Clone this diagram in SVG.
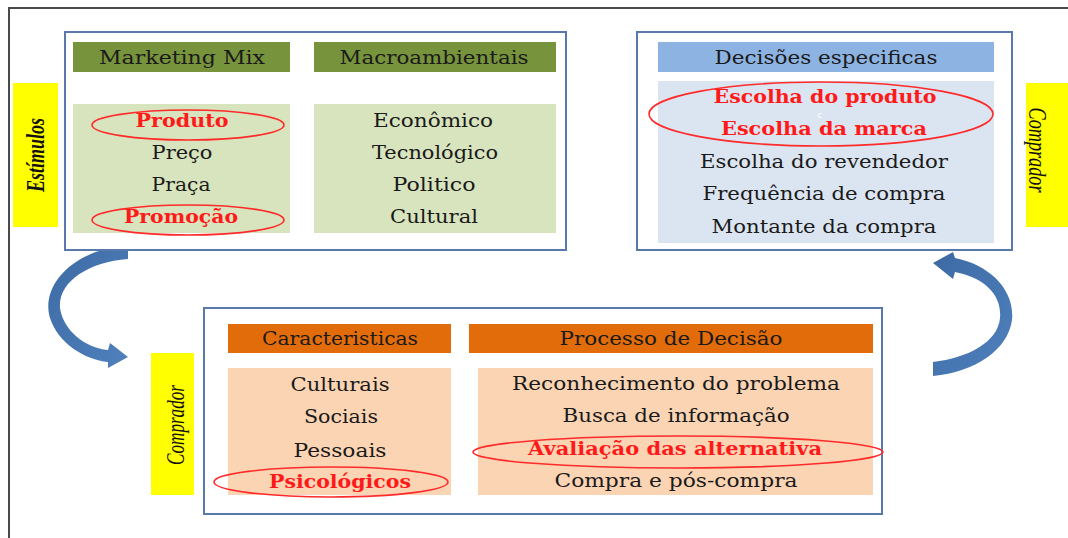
<svg xmlns="http://www.w3.org/2000/svg" width="1068" height="538" viewBox="0 0 1068 538">
<defs>
<style>
.frame{fill:none;stroke:#4a4a4a;stroke-width:2}
.box{fill:#ffffff;stroke:#5a79ab;stroke-width:2}
.t{font-family:"DejaVu Serif","Liberation Serif",serif;font-size:18px;fill:#1a1a1a;text-anchor:middle}
.r{font-family:"DejaVu Serif","Liberation Serif",serif;font-size:18px;font-weight:bold;fill:#ff1a1a;text-anchor:middle}
.ell{fill:none;stroke:#ff2a2a;stroke-width:1.6}
.yel{fill:#ffff00}
.lab{font-family:"Liberation Serif",serif;font-style:italic;font-size:25px;fill:#111;text-anchor:middle}
.olive{fill:#77933c}
.green{fill:#d7e4bd}
.bhead{fill:#8db3e2}
.bbody{fill:#dbe5f1}
.ohead{fill:#e36c0a}
.obody{fill:#fbd4b4}
</style>
<linearGradient id="ag" x1="0" y1="0" x2="1" y2="1">
<stop offset="0" stop-color="#3d6aa3"/>
<stop offset="1" stop-color="#4f81bd"/>
</linearGradient>
</defs>

<rect class="frame" x="9" y="8" width="1080" height="560"/>

<g id="connectors">
<path d="M128,246 C75,248 40,285 50,318 C58,343 85,360 108,362 L108,368 L128,357 L110,343 L108,350 C85,348 63,330 60,308 C58,282 88,262 128,259 Z" fill="url(#ag)"/>
<path d="M955,258 C990,265 1015,290 1012,320 C1008,350 975,372 933,376 L933,362 C968,358 998,342 1000,318 C1002,295 985,278 955,272 L953,279 L933,263 L953,252 Z" fill="url(#ag)"/>
</g>

<g id="estimulos">
<rect class="yel" x="13" y="83" width="45" height="144"/>
<text class="lab" transform="translate(44,155) rotate(-90)" textLength="74" lengthAdjust="spacingAndGlyphs" font-weight="bold">Estímulos</text>
</g>

<g id="comprador-right">
<rect class="yel" x="1026" y="83" width="50" height="144"/>
<text class="lab" transform="translate(1029,150) rotate(90)" textLength="85" lengthAdjust="spacingAndGlyphs">Comprador</text>
</g>

<g id="comprador-left">
<rect class="yel" x="151" y="353" width="43" height="142"/>
<text class="lab" transform="translate(184,425) rotate(-90)" textLength="80" lengthAdjust="spacingAndGlyphs">Comprador</text>
</g>

<g id="estimulos-box">
<rect class="box" x="65" y="32" width="501" height="218"/>
<rect class="olive" x="73" y="42" width="217" height="30"/>
<text class="t" x="182" y="64" textLength="166" lengthAdjust="spacingAndGlyphs">Marketing Mix</text>
<rect class="olive" x="314" y="42" width="242" height="30"/>
<text class="t" x="434" y="64" textLength="189" lengthAdjust="spacingAndGlyphs">Macroambientais</text>
<rect class="green" x="73" y="104" width="217" height="129"/>
<rect class="green" x="314" y="104" width="242" height="129"/>
<text class="r" x="182" y="127" textLength="93" lengthAdjust="spacingAndGlyphs">Produto</text>
<text class="t" x="182" y="159" textLength="61" lengthAdjust="spacingAndGlyphs">Preço</text>
<text class="t" x="181" y="191" textLength="59" lengthAdjust="spacingAndGlyphs">Praça</text>
<text class="r" x="181" y="223" textLength="114" lengthAdjust="spacingAndGlyphs">Promoção</text>
<ellipse class="ell" cx="188" cy="125" rx="96" ry="15"/>
<ellipse class="ell" cx="188" cy="220" rx="96" ry="15"/>
<text class="t" x="433" y="127" textLength="120" lengthAdjust="spacingAndGlyphs">Econômico</text>
<text class="t" x="435" y="159" textLength="126" lengthAdjust="spacingAndGlyphs">Tecnológico</text>
<text class="t" x="434" y="191" textLength="83" lengthAdjust="spacingAndGlyphs">Politico</text>
<text class="t" x="434" y="223" textLength="88" lengthAdjust="spacingAndGlyphs">Cultural</text>
</g>

<g id="decisoes-box">
<rect class="box" x="637" y="32" width="375" height="218"/>
<rect class="bhead" x="658" y="42" width="336" height="30"/>
<text class="t" x="826" y="64" textLength="223" lengthAdjust="spacingAndGlyphs">Decisões especificas</text>
<rect class="bbody" x="658" y="81" width="336" height="162"/>
<text class="r" x="825" y="103" textLength="223" lengthAdjust="spacingAndGlyphs">Escolha do produto</text>
<text class="r" x="824" y="135" textLength="206" lengthAdjust="spacingAndGlyphs">Escolha da marca</text>
<text x="820" y="118" font-family="DejaVu Sans, sans-serif" font-size="9" fill="#ffffff" text-anchor="middle">c</text>
<ellipse class="ell" cx="821" cy="114" rx="172" ry="32"/>
<text class="t" x="824" y="168" textLength="248" lengthAdjust="spacingAndGlyphs">Escolha do revendedor</text>
<text class="t" x="824" y="200" textLength="243" lengthAdjust="spacingAndGlyphs">Frequência de compra</text>
<text class="t" x="824" y="233" textLength="225" lengthAdjust="spacingAndGlyphs">Montante da compra</text>
</g>

<g id="comprador-box">
<rect class="box" x="204" y="308" width="678" height="206"/>
<rect class="ohead" x="228" y="324" width="223" height="29"/>
<text class="t" x="340" y="345" textLength="156" lengthAdjust="spacingAndGlyphs">Caracteristicas</text>
<rect class="ohead" x="469" y="324" width="404" height="29"/>
<text class="t" x="671" y="345" textLength="223" lengthAdjust="spacingAndGlyphs">Processo de Decisão</text>
<rect class="obody" x="228" y="368" width="223" height="127"/>
<rect class="obody" x="478" y="368" width="395" height="127"/>
<text class="t" x="340" y="391" textLength="99" lengthAdjust="spacingAndGlyphs">Culturais</text>
<text class="t" x="341" y="423" textLength="74" lengthAdjust="spacingAndGlyphs">Sociais</text>
<text class="t" x="340" y="457" textLength="93" lengthAdjust="spacingAndGlyphs">Pessoais</text>
<text class="r" x="340" y="488" textLength="142" lengthAdjust="spacingAndGlyphs">Psicológicos</text>
<ellipse class="ell" cx="331" cy="482" rx="117" ry="15"/>
<text class="t" x="676" y="390" textLength="328" lengthAdjust="spacingAndGlyphs">Reconhecimento  do problema</text>
<text class="t" x="676" y="422" textLength="227" lengthAdjust="spacingAndGlyphs">Busca de informação</text>
<text class="r" x="675" y="455" textLength="294" lengthAdjust="spacingAndGlyphs">Avaliação das alternativa</text>
<ellipse class="ell" cx="678" cy="452" rx="205" ry="16"/>
<text class="t" x="676" y="487" textLength="243" lengthAdjust="spacingAndGlyphs">Compra e pós-compra</text>
</g>
</svg>
